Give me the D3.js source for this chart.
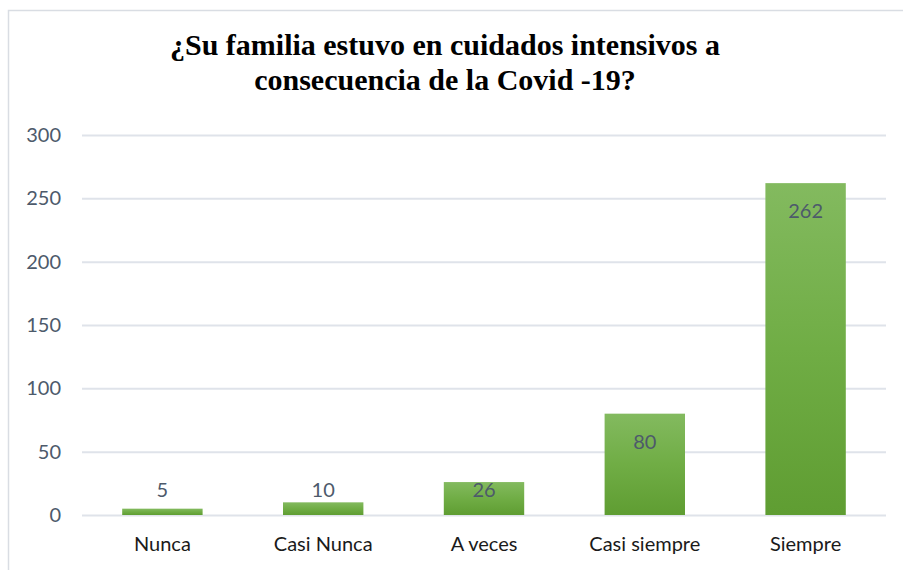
<!DOCTYPE html>
<html>
<head>
<meta charset="utf-8">
<script src="https://cdn.jsdelivr.net/npm/d3@7"></script>
<style>
  body { margin: 0; background: #fff; }
  svg { display: block; }
</style>
</head>
<body>
<div id="vis"></div>
<script>
// data
const CATEGORIES = ["Nunca", "Casi Nunca", "A veces", "Casi siempre", "Siempre"];
const VALUES = [5, 10, 26, 80, 262];
const Y_TICKS = [0, 50, 100, 150, 200, 250, 300];
const TITLE_LINES = ["¿Su familia estuvo en cuidados intensivos a",
                     "consecuencia de la Covid -19?"];

const FRAME_WIDTH = 903;
const FRAME_HEIGHT = 570;
const MARGINS = {left: 82, right: 17, top: 135, bottom: 55};
const FONT = "Lato, 'Open Sans', sans-serif";

const FRAME = d3.select("#vis")
                .append("svg")
                    .attr("width", FRAME_WIDTH)
                    .attr("height", FRAME_HEIGHT);

// chart border (top and left edges visible)
FRAME.append("rect")
    .attr("x", 8.5)
    .attr("y", 10.5)
    .attr("width", FRAME_WIDTH + 20)
    .attr("height", FRAME_HEIGHT + 20)
    .attr("fill", "none")
    .attr("stroke", "#d9dde3")
    .attr("stroke-width", 1.5);

// gradient for bars
const grad = FRAME.append("defs")
    .append("linearGradient")
        .attr("id", "barGrad")
        .attr("x1", 0).attr("y1", 0)
        .attr("x2", 0).attr("y2", 1);
grad.append("stop").attr("offset", "0%").attr("stop-color", "#83ba5f");
grad.append("stop").attr("offset", "50%").attr("stop-color", "#70ad45");
grad.append("stop").attr("offset", "100%").attr("stop-color", "#5f9d32");

const X_SCALE = d3.scaleBand()
                    .domain(CATEGORIES)
                    .range([MARGINS.left, FRAME_WIDTH - MARGINS.right])
                    .paddingInner(0.5)
                    .paddingOuter(0.25);

const Y_SCALE = d3.scaleLinear()
                    .domain([0, 300])
                    .range([FRAME_HEIGHT - MARGINS.bottom, MARGINS.top]);

// gridlines + y labels
const yAxis = FRAME.append("g")
    .attr("transform", "translate(" + MARGINS.left + ",0)")
    .call(d3.axisLeft(Y_SCALE)
            .tickValues(Y_TICKS)
            .tickSize(-(FRAME_WIDTH - MARGINS.left - MARGINS.right))
            .tickPadding(21));
yAxis.select(".domain").remove();
yAxis.selectAll(".tick line")
    .attr("stroke", "#dfe3ea")
    .attr("stroke-width", 2);
yAxis.selectAll(".tick text")
    .attr("fill", "#4d5a6b")
    .attr("font-family", FONT)
    .attr("font-size", "20px");

// bars
FRAME.selectAll(".bar")
    .data(VALUES)
    .enter()
    .append("rect")
        .attr("class", "bar")
        .attr("x", (d, i) => { return X_SCALE(CATEGORIES[i]); })
        .attr("y", (d) => { return Y_SCALE(d); })
        .attr("width", X_SCALE.bandwidth())
        .attr("height", (d) => { return Y_SCALE(0) - Y_SCALE(d); })
        .attr("fill", "url(#barGrad)");

// value labels near top of bar, kept above the baseline for short bars
FRAME.selectAll(".val")
    .data(VALUES)
    .enter()
    .append("text")
        .attr("class", "val")
        .attr("x", (d, i) => { return X_SCALE(CATEGORIES[i]) + X_SCALE.bandwidth() / 2; })
        .attr("y", (d) => { return Math.min(Y_SCALE(d) + 35, Y_SCALE(0) - 18); })
        .attr("text-anchor", "middle")
        .attr("fill", "#4d5a6b")
        .attr("font-family", FONT)
        .attr("font-size", "20px")
        .text((d) => { return d; });

// x axis labels
const xAxis = FRAME.append("g")
    .attr("transform", "translate(0," + Y_SCALE(0) + ")")
    .call(d3.axisBottom(X_SCALE).tickSize(0).tickPadding(22));
xAxis.select(".domain").remove();
xAxis.selectAll(".tick text")
    .attr("fill", "#1a1a1a")
    .attr("font-family", FONT)
    .attr("font-size", "20px");

// title
FRAME.append("g")
    .selectAll("text")
    .data(TITLE_LINES)
    .enter()
    .append("text")
        .attr("x", 445)
        .attr("y", (d, i) => { return 55 + i * 35; })
        .attr("text-anchor", "middle")
        .attr("font-family", "'Liberation Serif', 'Times New Roman', serif")
        .attr("font-weight", "bold")
        .attr("font-size", "30px")
        .attr("fill", "#000")
        .text((d) => { return d; });
</script>
</body>
</html>
